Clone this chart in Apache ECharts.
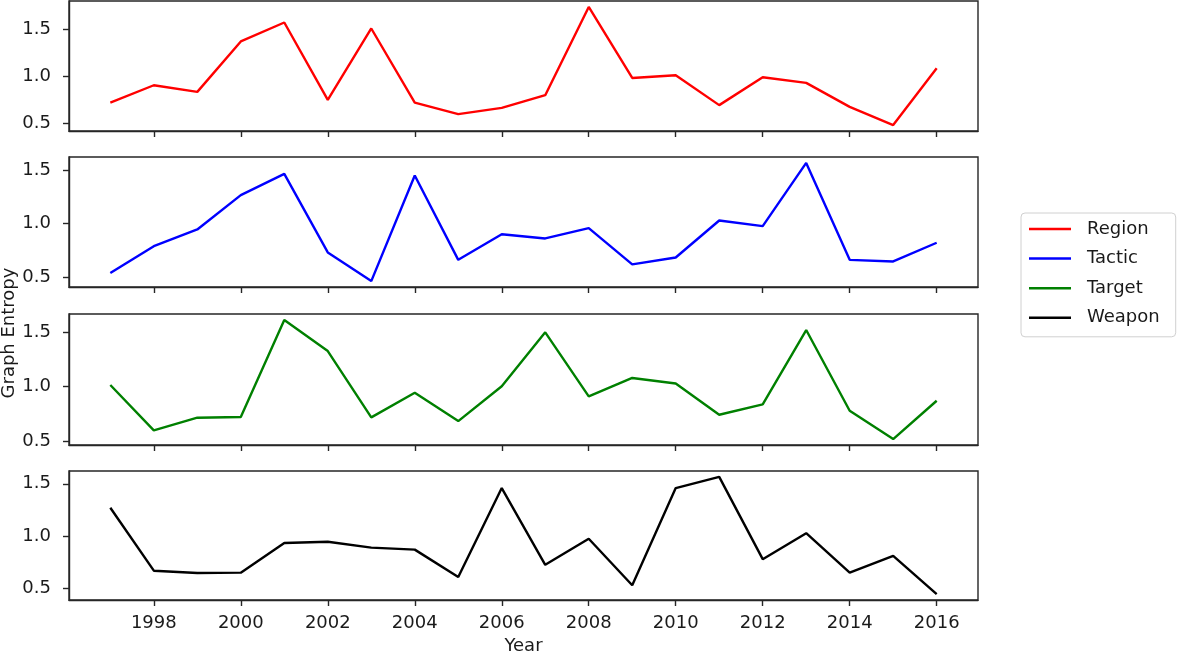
<!DOCTYPE html>
<html>
<head>
<meta charset="utf-8">
<script src="https://cdn.jsdelivr.net/npm/echarts@6/dist/echarts.min.js"></script>
<style>
html,body{margin:0;padding:0;background:#fff;}
#chart{width:1179px;height:656px;}
</style>
</head>
<body>
<div id="chart"></div>
<script>
const years = [1997,1998,1999,2000,2001,2002,2003,2004,2005,2006,2007,2008,2009,2010,2011,2012,2013,2014,2015,2016];
const region = [0.722,0.905,0.835,1.368,1.568,0.750,1.505,0.722,0.600,0.666,0.800,1.733,0.982,1.010,0.695,0.990,0.930,0.677,0.484,1.084];
const tactic = [0.536,0.788,0.944,1.265,1.464,0.729,0.461,1.449,0.660,0.900,0.860,0.956,0.617,0.682,1.028,0.975,1.567,0.660,0.645,0.820];
const target = [1.016,0.601,0.717,0.723,1.610,1.326,0.720,0.945,0.686,1.004,1.497,0.912,1.080,1.030,0.744,0.839,1.518,0.780,0.522,0.872];
const weapon = [1.271,0.670,0.648,0.651,0.934,0.946,0.890,0.871,0.610,1.459,0.726,0.975,0.531,1.459,1.566,0.780,1.028,0.651,0.811,0.446];
const seriesNames = ['Region','Tactic','Target','Weapon'];
const seriesColors = ['#ff0000','#0000ff','#008000','#000000'];
const xTicks = [1998,2000,2002,2004,2006,2008,2010,2012,2014,2016];
const yTicks = [0.5,1.0,1.5];
const xLabel = 'Year';
const yLabel = 'Graph Entropy';

const allData = [region, tactic, target, weapon];
const font = 'DejaVu Sans';
const axisColor = '#262626';
const textColor = '#1a1a1a';
const fs = 18;
const grids = [
  {top: 1, height: 130},
  {top: 157, height: 130},
  {top: 314, height: 131},
  {top: 471, height: 130}
];
const xMin = years[0] - 0.05*(years[years.length-1]-years[0]);
const xMax = years[years.length-1] + 0.05*(years[years.length-1]-years[0]);

const option = {
  backgroundColor: '#fff',
  animation: false,
  textStyle: {fontFamily: font},
  grid: grids.map(g => ({left: 69, right: 201, top: g.top, height: g.height, show: true, borderColor: axisColor, borderWidth: 1.4, backgroundColor: 'transparent'})),
  xAxis: grids.map((g, i) => ({
    type: 'value', gridIndex: i, min: xMin, max: xMax,
    axisLine: {show: true, onZero: false, lineStyle: {color: axisColor, width: 1.4}},
    axisTick: {show: true, length: 6, customValues: xTicks, lineStyle: {color: axisColor, width: 1.4}},
    axisLabel: {show: i === 3, customValues: xTicks, fontSize: fs, color: textColor, margin: 14, fontFamily: font,
      formatter: v => String(v)},
    splitLine: {show: false},
    name: i === 3 ? xLabel : '',
    nameLocation: 'middle', nameGap: 37,
    nameTextStyle: {fontSize: fs, color: textColor, fontFamily: font, verticalAlign: 'top'}
  })),
  yAxis: allData.map((d, i) => {
    const mn = Math.min(...d), mx = Math.max(...d), r = mx - mn;
    return {
      type: 'value', gridIndex: i, min: mn - 0.05*r, max: mx + 0.05*r,
      axisLine: {show: true, lineStyle: {color: axisColor, width: 1.4}},
      axisTick: {show: true, length: 6, customValues: yTicks, lineStyle: {color: axisColor, width: 1.4}},
      axisLabel: {customValues: yTicks, fontSize: fs, color: textColor, margin: 18, fontFamily: font,
        formatter: v => v.toFixed(1)},
      splitLine: {show: false}
    };
  }),
  legend: {
    orient: 'vertical', left: 1021, top: 213,
    padding: [7, 16, 10, 8],
    itemWidth: 42, itemHeight: 2.5, itemGap: 11.6,
    icon: 'rect',
    borderColor: '#d0d0d0', borderWidth: 1, borderRadius: 4,
    backgroundColor: '#fff',
    data: seriesNames,
    textStyle: {fontSize: fs, color: textColor, fontFamily: font, padding: [0,0,0,11], lineHeight: 18}
  },
  graphic: [{
    type: 'text', x: 9, y: 333, rotation: Math.PI/2,
    style: {text: yLabel, fontSize: fs, fill: textColor, fontFamily: font, textAlign: 'center', textVerticalAlign: 'middle'}
  }],
  series: allData.map((d, i) => ({
    name: seriesNames[i], type: 'line', xAxisIndex: i, yAxisIndex: i,
    data: years.map((y, k) => [y, d[k]]),
    symbol: 'none', lineStyle: {color: seriesColors[i], width: 2.4}, itemStyle: {color: seriesColors[i]}
  }))
};
const chart = echarts.init(document.getElementById('chart'), null, {renderer: 'canvas'});
chart.setOption(option);
</script>
</body>
</html>
